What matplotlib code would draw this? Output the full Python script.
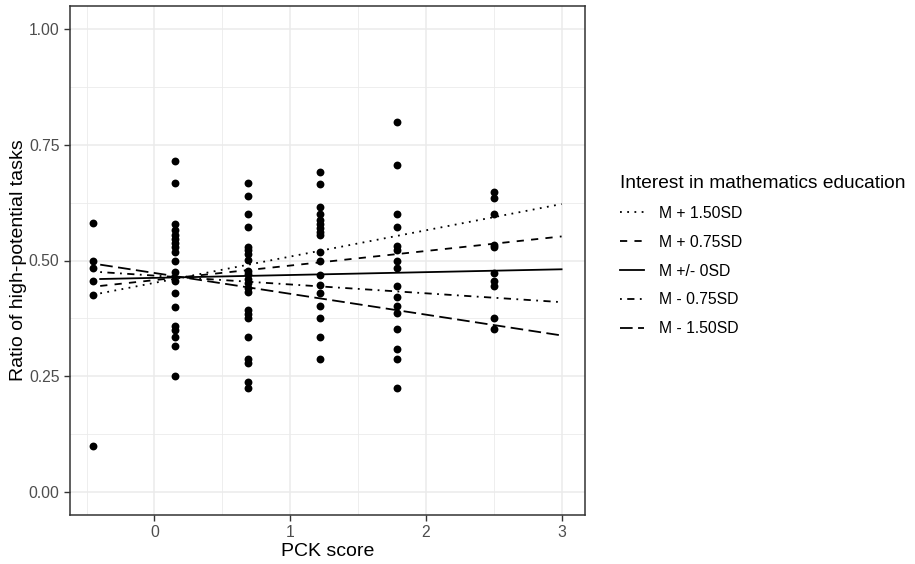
import numpy as np
import matplotlib.pyplot as plt
from matplotlib.lines import Line2D

plt.rcParams['font.family'] = ['Liberation Sans', 'DejaVu Sans']

# PCK score columns and the ratios observed at each
pck_levels = [-0.45, 0.15, 0.69, 1.22, 1.79, 2.50]
ratio_by_level = [
    [0.58, 0.50, 0.483, 0.455, 0.425, 0.10],
    [0.714, 0.667, 0.579, 0.565, 0.556, 0.547, 0.538, 0.529, 0.519, 0.50,
     0.476, 0.455, 0.43, 0.40, 0.358, 0.349, 0.334, 0.316, 0.25],
    [0.667, 0.639, 0.60, 0.572, 0.530, 0.522, 0.514, 0.501, 0.478, 0.470,
     0.460, 0.452, 0.441, 0.433, 0.393, 0.384, 0.376, 0.334, 0.288, 0.279,
     0.237, 0.225],
    [0.692, 0.666, 0.616, 0.601, 0.587, 0.578, 0.570, 0.5625, 0.556, 0.518,
     0.499, 0.468, 0.446, 0.430, 0.401, 0.376, 0.334, 0.287],
    [0.80, 0.706, 0.601, 0.572, 0.531, 0.522, 0.50, 0.483, 0.445, 0.422,
     0.401, 0.387, 0.351, 0.308, 0.287, 0.224],
    [0.647, 0.636, 0.601, 0.534, 0.529, 0.472, 0.455, 0.445, 0.376, 0.351],
]

# simple slopes: predicted ratio at both ends of the PCK range
line_x = [-0.40, 3.0]
groups = ['M + 1.50SD', 'M + 0.75SD', 'M +/- 0SD', 'M - 0.75SD', 'M - 1.50SD']
pred_start = [0.429, 0.445, 0.460, 0.475, 0.491]
pred_end = [0.622, 0.552, 0.481, 0.410, 0.338]
dash_styles = [(0, (1, 3)), (0, (4, 4)), '-', (0, (1, 3, 4, 3)), (0, (7, 3))]

fig = plt.figure(figsize=(9.15, 5.64), dpi=100)
ax = fig.add_axes([70/915, 1-515/564, (585-70)/915, (515-6)/564])

xs = []
ys = []
for lvl, vals in zip(pck_levels, ratio_by_level):
    xs += [lvl] * len(vals)
    ys += vals
ax.scatter(xs, ys, s=32, color='black', zorder=3, linewidths=0)

handles = []
for g, y0, y1, ls in zip(groups, pred_start, pred_end, dash_styles):
    ax.plot(line_x, [y0, y1], color='black', lw=1.3, linestyle=ls, zorder=4)
    handles.append(Line2D([], [], color='black', lw=1.3, linestyle=ls))

ax.set_xlim(-0.6225, 3.1725)
ax.set_ylim(-0.05, 1.05)
ax.set_xticks([0, 1, 2, 3])
ax.set_yticks([0, 0.25, 0.5, 0.75, 1.0])
ax.set_yticklabels(['0.00', '0.25', '0.50', '0.75', '1.00'])
ax.set_xticks([-0.5, 0.5, 1.5, 2.5], minor=True)
ax.set_yticks([0.125, 0.375, 0.625, 0.875], minor=True)
ax.grid(which='major', color='#EBEBEB', lw=1.1)
ax.grid(which='minor', color='#EBEBEB', lw=0.6)
ax.set_axisbelow(True)
ax.tick_params(which='major', length=4, width=1, color='#333333',
               labelsize=11.3, labelcolor='#4D4D4D')
ax.tick_params(which='minor', length=0)
for sp in ax.spines.values():
    sp.set_color('#333333')
    sp.set_linewidth(1.1)

ax.set_xlabel('PCK score', fontsize=14, labelpad=2)
ax.set_ylabel('Ratio of high-potential tasks', fontsize=14, labelpad=1)

leg = fig.legend(handles, groups, loc='upper left', bbox_to_anchor=(606/915, 1-161/564),
                 title='Interest in mathematics education', frameon=False,
                 fontsize=11.3, title_fontsize=13.8, alignment='left',
                 handlelength=1.5, handletextpad=1.0, labelspacing=0.88)

fig.savefig('out.png', dpi=100)
